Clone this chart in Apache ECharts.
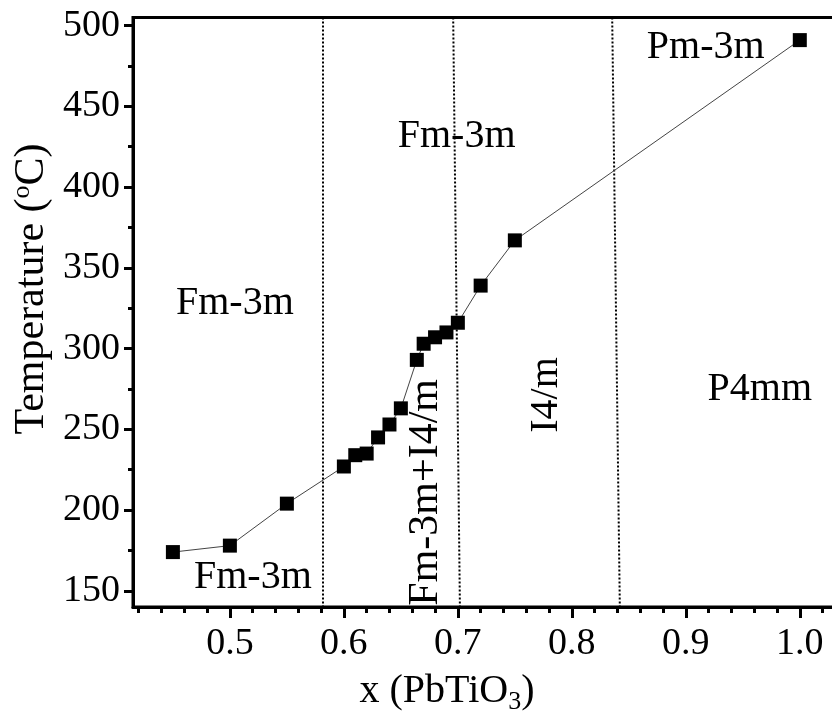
<!DOCTYPE html>
<html>
<head>
<meta charset="utf-8">
<script src="https://cdn.jsdelivr.net/npm/echarts@6/dist/echarts.min.js"></script>
<style>
  html, body { margin: 0; padding: 0; background: #fff; overflow: hidden; }
  #chart { width: 832px; height: 721px; }
</style>
</head>
<body>
<div id="chart"></div>
<script>
// composition x (PbTiO3) and transition temperature
const xValues = [0.45, 0.50, 0.55, 0.60, 0.61, 0.62, 0.63, 0.64, 0.65, 0.664, 0.67, 0.68, 0.69, 0.70, 0.72, 0.75, 1.00];
const tempValues = [174, 178, 204, 227, 234, 235, 245, 253, 263, 293, 303, 307, 310, 316, 339, 367, 491];

const xTicks = [0.5, 0.6, 0.7, 0.8, 0.9, 1.0];
const xMinorTicks = [0.42, 0.44, 0.46, 0.48, 0.52, 0.54, 0.56, 0.58, 0.62, 0.64, 0.66, 0.68,
  0.72, 0.74, 0.76, 0.78, 0.82, 0.84, 0.86, 0.88, 0.92, 0.94, 0.96, 0.98, 1.02];
const yTicks = [150, 200, 250, 300, 350, 400, 450, 500];
const yMinorTicks = [175, 225, 275, 325, 375, 425, 475];

// phase boundaries: x at top, x at bottom (lines are slightly slanted)
const boundaryTop = [0.5816, 0.6959, 0.8354];
const boundaryBottom = [0.5816, 0.7018, 0.8421];

// phase region labels: text, x, y, rotation
const phaseNames = ['Fm-3m', 'Fm-3m', 'Pm-3m', 'P4mm', 'Fm-3m', 'Fm-3m+I4/m', 'I4/m'];
const phaseX = [0.5044, 0.6989, 0.9175, 0.9649, 0.5202, 0.6719, 0.7776];
const phaseY = [328, 431.6, 486.7, 274.4, 158, 211, 271.3];
const phaseRotate = [0, 0, 0, 0, 0, 90, 90];
const phaseSize = [40, 40, 40, 40, 40, 42, 40];

const X_MIN = 0.415, X_MAX = 1.03, Y_MIN = 140, Y_MAX = 505;
const serif = 'Liberation Serif';

const chart = echarts.init(document.getElementById('chart'));

const boundaryLines = boundaryTop.map((xt, i) => [
  { coord: [xt, Y_MAX] },
  { coord: [boundaryBottom[i], Y_MIN] }
]);

const phaseMarks = phaseNames.map((n, i) => ({
  name: n,
  coord: [phaseX[i], phaseY[i]],
  label: { rotate: phaseRotate[i], fontSize: phaseSize[i] }
}));

const option = {
  backgroundColor: '#fff',
  animation: false,
  grid: {
    left: 133, width: 701, top: 17.5, height: 589.5,
    outerBoundsMode: 'none',
    show: true, borderColor: '#000', borderWidth: 3, backgroundColor: 'transparent'
  },
  xAxis: [
    {
      type: 'value', min: X_MIN, max: X_MAX, position: 'bottom',
      splitLine: { show: false },
      axisLine: { show: true, onZero: false, lineStyle: { color: '#000', width: 3 } },
      axisTick: { show: true, customValues: xTicks, length: 11, lineStyle: { color: '#000', width: 3 } },
      axisLabel: {
        customValues: xTicks, margin: 18, color: '#000', fontFamily: serif, fontSize: 38,
        formatter: v => v.toFixed(1)
      }
    },
    {
      type: 'value', min: X_MIN, max: X_MAX, position: 'bottom',
      splitLine: { show: false },
      axisLine: { show: false },
      axisTick: { show: true, customValues: xMinorTicks, length: 6, lineStyle: { color: '#000', width: 3 } },
      axisLabel: { show: false }
    }
  ],
  yAxis: [
    {
      type: 'value', min: Y_MIN, max: Y_MAX, position: 'left',
      splitLine: { show: false },
      axisLine: { show: true, onZero: false, lineStyle: { color: '#000', width: 3 } },
      axisTick: { show: true, customValues: yTicks, length: 9, lineStyle: { color: '#000', width: 3 } },
      axisLabel: {
        customValues: yTicks, margin: 13, color: '#000', fontFamily: serif, fontSize: 38
      }
    },
    {
      type: 'value', min: Y_MIN, max: Y_MAX, position: 'left',
      splitLine: { show: false },
      axisLine: { show: false },
      axisTick: { show: true, customValues: yMinorTicks, length: 5, lineStyle: { color: '#000', width: 3 } },
      axisLabel: { show: false }
    }
  ],
  graphic: [
    {
      type: 'text', x: 447, y: 691,
      style: {
        text: '{n|x (PbTiO}{s|3}{n|)}',
        align: 'center', verticalAlign: 'middle',
        rich: {
          n: { fontFamily: serif, fontSize: 40, fill: '#000' },
          s: { fontFamily: serif, fontSize: 26, fill: '#000', verticalAlign: 'bottom', padding: [22, 0, 0, 0] }
        }
      }
    },
    {
      type: 'text', x: 32, y: 289, rotation: Math.PI / 2,
      style: {
        text: '{n|Temperature (}{s|o}{n|C)}',
        align: 'center', verticalAlign: 'middle',
        rich: {
          n: { fontFamily: serif, fontSize: 42, fill: '#000' },
          s: { fontFamily: serif, fontSize: 26, fill: '#000', verticalAlign: 'top', padding: [0, 0, 20, 0] }
        }
      }
    }
  ],
  series: [
    {
      type: 'line',
      data: xValues.map((x, i) => [x, tempValues[i]]),
      symbol: 'rect',
      symbolSize: 14,
      itemStyle: { color: '#000' },
      lineStyle: { color: '#444', width: 1 },
      z: 5,
      markLine: {
        silent: true,
        symbol: ['none', 'none'],
        label: { show: false },
        lineStyle: { color: '#000', width: 2, type: [2, 2] },
        data: boundaryLines
      },
      markPoint: {
        silent: true,
        symbol: 'circle',
        symbolSize: 1,
        itemStyle: { color: 'rgba(0,0,0,0)' },
        label: {
          show: true, position: 'inside', formatter: '{b}',
          color: '#000', fontFamily: serif, fontSize: 40
        },
        data: phaseMarks
      }
    }
  ]
};

chart.setOption(option);
</script>
</body>
</html>
